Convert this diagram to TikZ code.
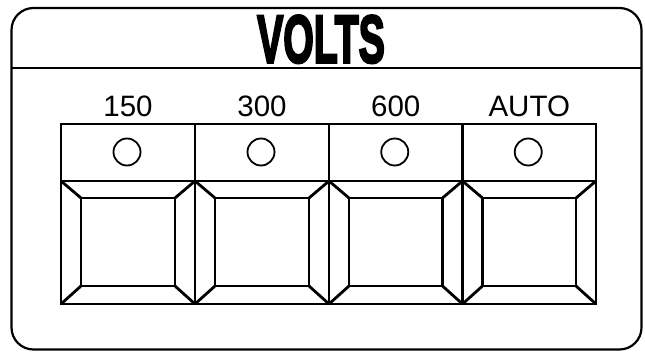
\documentclass[tikz,border=0pt]{standalone}
\usepackage{fontspec}
\setmainfont{Liberation Sans}
\newfontfamily\voltsfont[FakeBold=4]{Liberation Sans Bold}
\tikzset{
  frame/.style={line width=2.2pt},
  btn/.style={line width=2.8pt, line join=miter},
  lamp/.style={line width=1.8pt},
  lbl/.style={anchor=base, inner sep=0pt, font=\fontsize{29.5}{29.5}\selectfont},
  title/.style={anchor=base, inner sep=0pt}
}
\begin{document}
\begin{tikzpicture}[x=1pt,y=-1pt]
\useasboundingbox (0,0) rectangle (645,352);
% outer frame
\draw[frame, rounded corners=22pt] (11.5,8) rectangle (641.5,349.5);
\draw[frame] (11.5,68) -- (641.5,68);
\node[title] (volts) at (321,62.5) {\scalebox{0.58}[1]{\voltsfont\fontsize{67.5}{67.5}\selectfont VOLTS}};
% buttons
\foreach \xa/\xb/\t [count=\i] in {61/195/150,195/329/300,329/462.5/600,462.5/596/AUTO}{
  \pgfmathsetmacro\xc{(\xa+\xb)/2}
  \node[lbl] (label\i) at (\xc,117) {\t};
  \draw[btn] (\xa,124) rectangle (\xb,304);
  \draw[btn] (\xa,181) -- (\xb,181);
  \draw[lamp] (\xc-1,152) circle[x radius=13.5, y radius=13.5];
  \draw[btn] (\xa+20,198) rectangle (\xb-20,286);
  \draw[btn] (\xa,181) -- (\xa+20,198);
  \draw[btn] (\xb,181) -- (\xb-20,198);
  \draw[btn] (\xa,304) -- (\xa+20,286);
  \draw[btn] (\xb,304) -- (\xb-20,286);
}
\end{tikzpicture}
\end{document}
